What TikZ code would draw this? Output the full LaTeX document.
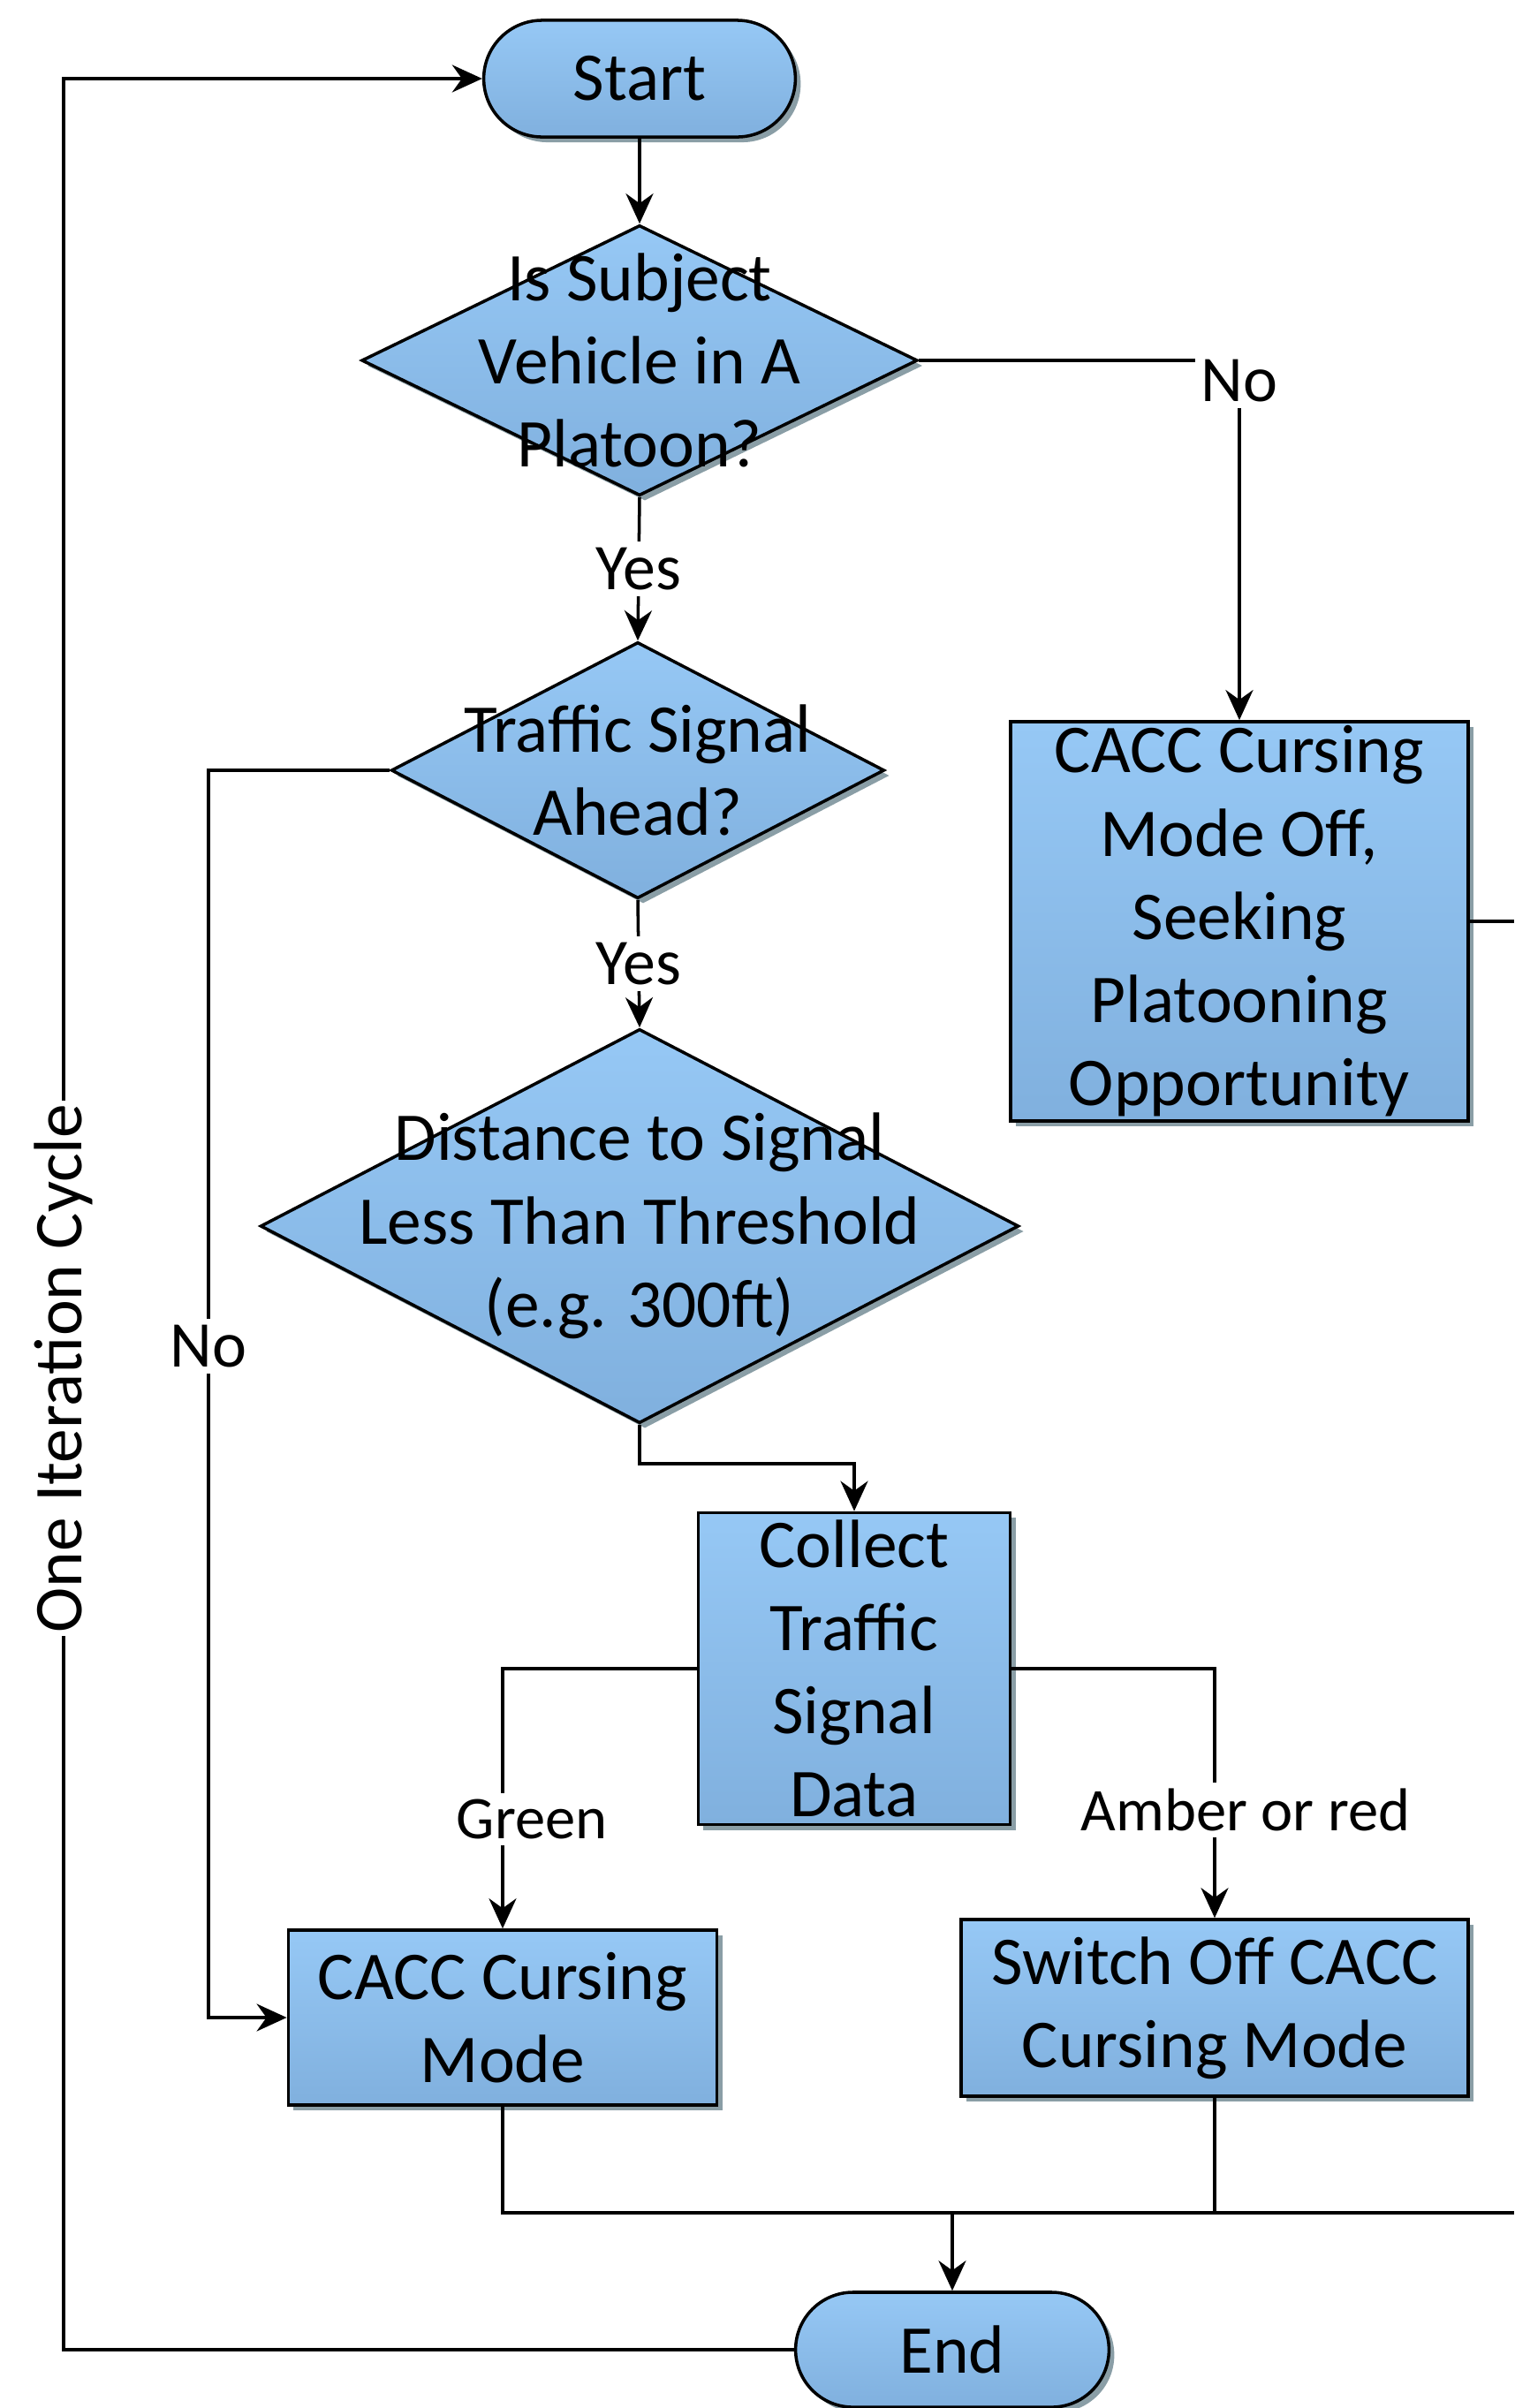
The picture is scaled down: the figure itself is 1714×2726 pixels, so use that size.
\documentclass[tikz,border=0pt]{standalone}
\usepackage{fontspec}
\setmainfont{Carlito}
\usetikzlibrary{arrows.meta,positioning,calc,shapes.geometric,shapes.misc,shadows}
\definecolor{boxtop}{RGB}{150,200,245}
\definecolor{boxbot}{RGB}{128,176,222}
\definecolor{boxshade}{RGB}{138,158,166}

\begin{document}
\begin{tikzpicture}[x=0.01cm,y=-0.01cm,
  every node/.style={font=\fontsize{22}{26.8}\selectfont, align=center},
  blk/.style={draw, line width=1pt, top color=boxtop, bottom color=boxbot,
    drop shadow={shadow xshift=0.06cm, shadow yshift=-0.06cm, fill=boxshade, opacity=1}},
  term/.style={blk, rounded rectangle, minimum width=3.76cm, minimum height=1.32cm},
  proc/.style={blk, rectangle, inner sep=0pt},
  decision/.style={blk, diamond, inner sep=0pt},
  lbl/.style={fill=white, inner sep=2pt, font=\fontsize{21}{25}\selectfont},
  flow/.style={line width=1pt, -{Stealth[length=0.34cm,width=0.31cm]}},
  link/.style={line width=1pt}]
  \useasboundingbox (0,0) rectangle (1714,2726); % 全体の大きさ
  \node[term] (start) at (724,89) {Start}; % 開始
  \node[decision, minimum width=6.29cm, minimum height=3.06cm] (d1) at (724,408) {}; % 判断1
  \node (d1txt) at (d1) {Is Subject\\Vehicle in A\\Platoon?};
  \node[decision, minimum width=5.58cm, minimum height=2.90cm] (d2) at (722,872) {}; % 判断2
  \node (d2txt) at (d2) {Traffic Signal\\Ahead?};
  \node[decision, minimum width=8.58cm, minimum height=4.46cm] (d3) at (724,1388) {}; % 判断3
  \node (d3txt) at (d3) {Distance to Signal\\Less Than Threshold\\(e.g. 300ft)};
  \node[proc, minimum width=5.18cm, minimum height=4.52cm] (off) at (1403,1043) {CACC Cursing\\Mode Off,\\Seeking\\Platooning\\Opportunity}; % 隊列なし
  \node[proc, minimum width=3.53cm, minimum height=3.53cm] (collect) at (967,1889) {Collect\\Traffic\\Signal\\Data}; % 信号データ
  \node[proc, minimum width=4.85cm, minimum height=1.98cm] (cruise) at (569,2284) {CACC Cursing\\Mode}; % 青
  \node[proc, minimum width=5.74cm, minimum height=2.00cm] (switch) at (1375,2273) {Switch Off CACC\\Cursing Mode}; % 黄・赤
  \node[term, minimum height=1.30cm, minimum width=3.78cm] (end) at (1078,2660) {End}; % 終了
  \coordinate (merge) at (1078,2505); % 合流点
  \coordinate (edgeA) at (1714,1043); % 右端
  \coordinate (edgeB) at (1714,2505);
  \draw[flow] (start.south) -- (d1.north);
  \draw[flow] (d1.east) -| node[lbl,pos=0.528] (no1) {No} (off.north);
  \draw[flow] (d1.south) -- node[lbl] (yes1) {Yes} (d2.north);
  \draw[flow] (d2.west) -- ++(-205,0) |- node[lbl,pos=0.231] (no2) {No} (cruise.west);
  \draw[flow] (d2.south) -- node[lbl] (yes2) {Yes} (d3.north);
  \draw[flow] (d3.south) -- ++(0,44) -| (collect.north);
  \draw[flow] (collect.west) -| node[lbl,pos=0.79,xshift=0.33cm,font=\fontsize{19.5}{23}\selectfont] (green) {Green} (cruise.north);
  \draw[flow] (collect.east) -| node[lbl,pos=0.784,xshift=0.35cm,font=\fontsize{19.5}{23}\selectfont] (amber) {Amber or red} (switch.north);
  \draw[link] (off.east) -- (edgeA); % 右へ抜ける線
  \draw[link] (cruise.south) |- (edgeB);
  \draw[link] (switch.south) -- (switch.south |- merge);
  \draw[flow] (merge) -- (end.north);
  \draw[flow] (end.west) -- ++(-827,0) |- node[lbl,pos=0.216,rotate=90,inner sep=1pt,font=\fontsize{22}{26}\selectfont] (cycle) {One Iteration Cycle} (start.west); % 繰り返し
\end{tikzpicture}
\end{document}
